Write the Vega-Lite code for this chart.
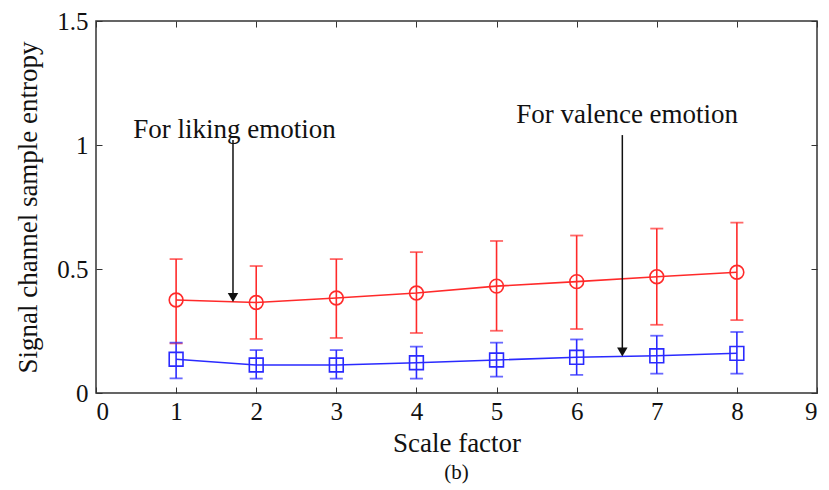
{
  "$schema": "https://vega.github.io/schema/vega-lite/v6.json",
  "autosize": "none",
  "width": 721,
  "height": 372,
  "padding": {"left": 96, "top": 21, "right": 12, "bottom": 97},
  "background": "white",
  "config": {
    "font": "Liberation Serif",
    "view": {"stroke": "#333333", "strokeWidth": 1.5},
    "axis": {"grid": false, "domain": false, "tickColor": "#333", "labelColor": "#111", "titleColor": "#111", "labelFont": "Liberation Serif", "titleFont": "Liberation Serif", "labelFontSize": 25, "titleFontSize": 27, "titleFontWeight": "normal"}
  },
  "title": {"text": "(b)", "orient": "bottom", "anchor": "middle", "fontSize": 21, "fontWeight": "normal", "font": "Liberation Serif", "offset": 6, "color": "#111"},
  "resolve": {"axis": {"x": "independent", "y": "independent"}},
  "datasets": {
    "series": [
      {"series": "liking", "x": 1, "mean": 0.375, "lo": 0.20, "hi": 0.54},
      {"series": "liking", "x": 2, "mean": 0.365, "lo": 0.218, "hi": 0.512},
      {"series": "liking", "x": 3, "mean": 0.383, "lo": 0.222, "hi": 0.54},
      {"series": "liking", "x": 4, "mean": 0.403, "lo": 0.242, "hi": 0.568},
      {"series": "liking", "x": 5, "mean": 0.431, "lo": 0.251, "hi": 0.613},
      {"series": "liking", "x": 6, "mean": 0.449, "lo": 0.258, "hi": 0.635},
      {"series": "liking", "x": 7, "mean": 0.469, "lo": 0.275, "hi": 0.663},
      {"series": "liking", "x": 8, "mean": 0.487, "lo": 0.294, "hi": 0.687},
      {"series": "valence", "x": 1, "mean": 0.136, "lo": 0.059, "hi": 0.203},
      {"series": "valence", "x": 2, "mean": 0.113, "lo": 0.058, "hi": 0.173},
      {"series": "valence", "x": 3, "mean": 0.113, "lo": 0.058, "hi": 0.173},
      {"series": "valence", "x": 4, "mean": 0.122, "lo": 0.058, "hi": 0.187},
      {"series": "valence", "x": 5, "mean": 0.133, "lo": 0.066, "hi": 0.203},
      {"series": "valence", "x": 6, "mean": 0.144, "lo": 0.073, "hi": 0.216},
      {"series": "valence", "x": 7, "mean": 0.150, "lo": 0.078, "hi": 0.231},
      {"series": "valence", "x": 8, "mean": 0.160, "lo": 0.078, "hi": 0.246}
    ],
    "notes": [
      {"label": "For liking emotion", "tx": 1.73, "ty": 1.06, "ax": 1.71, "ay0": 1.02, "ay1": 0.40, "tip": 0.385},
      {"label": "For valence emotion", "tx": 6.63, "ty": 1.12, "ax": 6.57, "ay0": 1.04, "ay1": 0.18, "tip": 0.165}
    ]
  },
  "layer": [
    {
      "data": {"name": "series"},
      "mark": {"type": "rule", "strokeWidth": 1.6},
      "encoding": {
        "x": {"field": "x", "type": "quantitative", "scale": {"domain": [0, 9], "nice": false, "zero": false},
              "axis": {"title": "Scale factor", "values": [0,1,2,3,4,5,6,7,8,9], "tickSize": -6, "labelPadding": 12, "titlePadding": 6, "format": "d"}},
        "y": {"field": "lo", "type": "quantitative", "scale": {"domain": [0, 1.5], "nice": false},
              "axis": {"title": "Signal channel sample entropy", "values": [0, 0.5, 1, 1.5], "tickSize": -6, "labelPadding": 14, "titlePadding": 14, "labelExpr": "datum.value + ''"}},
        "y2": {"field": "hi"},
        "color": {"field": "series", "type": "nominal", "scale": {"domain": ["liking", "valence"], "range": ["#ff2a2a", "#2a2aff"]}, "legend": null}
      }
    },
    {
      "data": {"name": "series"},
      "mark": {"type": "tick", "orient": "horizontal", "size": 13, "thickness": 1.8},
      "encoding": {
        "x": {"field": "x", "type": "quantitative", "axis": {"orient": "top", "values": [0,1,2,3,4,5,6,7,8,9], "tickSize": -6, "labels": false, "title": null}},
        "y": {"field": "lo", "type": "quantitative", "axis": {"orient": "right", "values": [0, 0.5, 1, 1.5], "tickSize": -6, "labels": false, "title": null}},
        "color": {"field": "series", "type": "nominal", "legend": null}
      }
    },
    {
      "data": {"name": "series"},
      "mark": {"type": "tick", "orient": "horizontal", "size": 13, "thickness": 1.8},
      "encoding": {
        "x": {"field": "x", "type": "quantitative", "axis": null},
        "y": {"field": "hi", "type": "quantitative", "axis": null},
        "color": {"field": "series", "type": "nominal", "legend": null}
      }
    },
    {
      "data": {"name": "series"},
      "mark": {"type": "line", "strokeWidth": 1.6},
      "encoding": {
        "x": {"field": "x", "type": "quantitative", "axis": null},
        "y": {"field": "mean", "type": "quantitative", "axis": null},
        "color": {"field": "series", "type": "nominal", "legend": null}
      }
    },
    {
      "data": {"name": "series"},
      "mark": {"type": "point", "filled": false, "strokeWidth": 1.6, "opacity": 1},
      "encoding": {
        "x": {"field": "x", "type": "quantitative", "axis": null},
        "y": {"field": "mean", "type": "quantitative", "axis": null},
        "color": {"field": "series", "type": "nominal", "legend": null},
        "shape": {"field": "series", "type": "nominal", "scale": {"domain": ["liking", "valence"], "range": ["circle", "square"]}, "legend": null},
        "size": {"value": 190}
      }
    },
    {
      "data": {"name": "notes"},
      "mark": {"type": "rule", "color": "#111", "strokeWidth": 1.5},
      "encoding": {
        "x": {"field": "ax", "type": "quantitative", "axis": null},
        "y": {"field": "ay0", "type": "quantitative", "axis": null},
        "y2": {"field": "ay1"}
      }
    },
    {
      "data": {"name": "notes"},
      "mark": {"type": "point", "shape": "triangle-down", "filled": true, "color": "#111", "size": 110, "opacity": 1},
      "encoding": {
        "x": {"field": "ax", "type": "quantitative", "axis": null},
        "y": {"field": "tip", "type": "quantitative", "axis": null}
      }
    },
    {
      "data": {"name": "notes"},
      "mark": {"type": "text", "fontSize": 27, "font": "Liberation Serif", "color": "#111", "align": "center", "baseline": "middle"},
      "encoding": {
        "x": {"field": "tx", "type": "quantitative", "axis": null},
        "y": {"field": "ty", "type": "quantitative", "axis": null},
        "text": {"field": "label"}
      }
    }
  ]
}
